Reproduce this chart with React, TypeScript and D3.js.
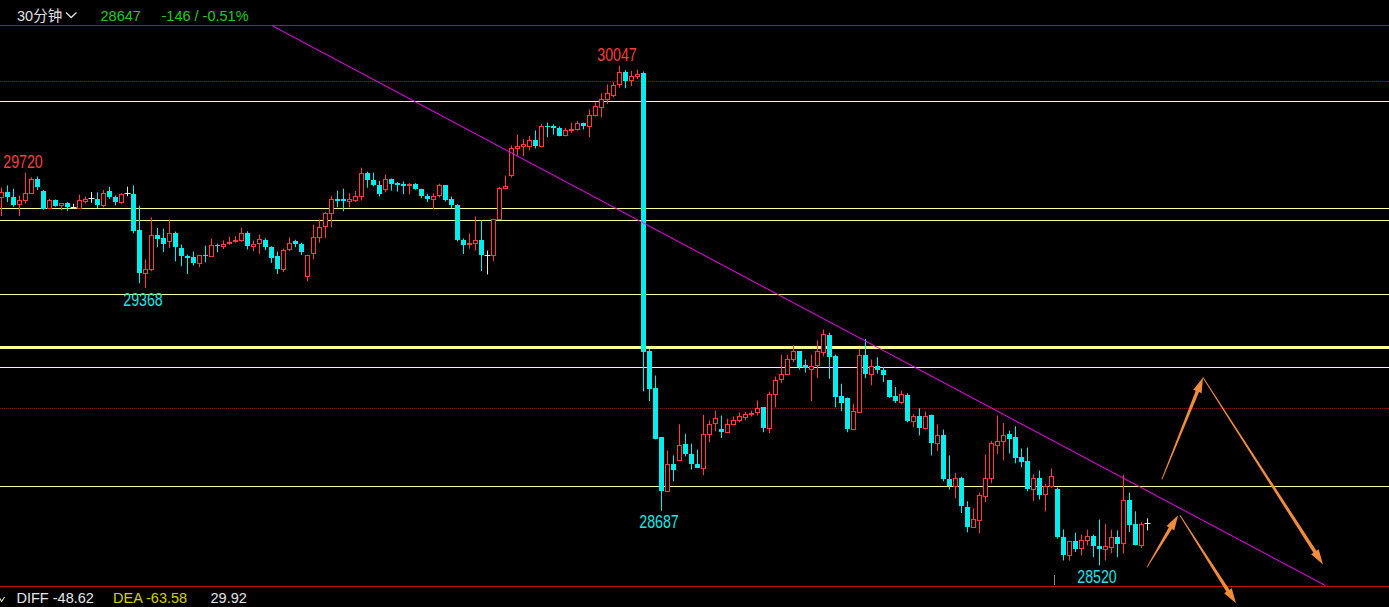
import React from "react";
import * as d3 from "d3";

const W = 1389;
const H = 607;

// 30-minute bars, oldest first
const opens = [
  29645, 29662, 29647, 29625, 29637, 29657, 29702, 29665, 29611, 29637,
  29622, 29626, 29612, 29612, 29633, 29640, 29641, 29620, 29663, 29647,
  29629, 29655, 29656, 29546, 29413, 29425, 29528, 29519, 29510, 29537,
  29490, 29466, 29461, 29444, 29469, 29466, 29500, 29495, 29504, 29510,
  29515, 29537, 29495, 29506, 29513, 29494, 29464, 29425, 29486, 29510,
  29503, 29404, 29474, 29523, 29556, 29596, 29638, 29638, 29633, 29636,
  29648, 29719, 29699, 29681, 29669, 29701, 29687, 29685, 29683, 29685,
  29671, 29650, 29639, 29651, 29681, 29638, 29622, 29513, 29501, 29504,
  29513, 29468, 29468, 29577, 29672, 29714, 29794, 29802, 29800, 29821,
  29800, 29863, 29861, 29857, 29834, 29849, 29852, 29873, 29862, 29895,
  29920, 29944, 29956, 29990, 30028, 30002, 30016, 30023, 29174, 29061,
  28911, 28747, 28831, 28842, 28890, 28861, 28831, 28818, 28921, 28954,
  28938, 28927, 28952, 28964, 28973, 28983, 28988, 29003, 28939, 29043,
  29089, 29104, 29151, 29174, 29131, 29121, 29133, 29171, 29225, 29161,
  29039, 29032, 28936, 28988, 29162, 29104, 29128, 29116, 29085, 29039,
  29019, 29042, 28961, 28977, 28939, 28979, 28894, 28917, 28783, 28764,
  28786, 28697, 28637, 28660, 28733, 28788, 28889, 28901, 28920, 28911,
  28850, 28838, 28752, 28786, 28737, 28762, 28752, 28606, 28552, 28595,
  28573, 28597, 28609, 28578, 28570, 28576, 28606, 28588, 28719, 28645,
  28581, 28647,
];

const highs = [
  29674, 29681, 29671, 29650, 29720, 29706, 29708, 29667, 29640, 29638,
  29627, 29630, 29625, 29653, 29647, 29661, 29660, 29667, 29677, 29650,
  29657, 29677, 29681, 29619, 29455, 29583, 29551, 29549, 29577, 29540,
  29500, 29470, 29479, 29469, 29497, 29519, 29503, 29513, 29525, 29526,
  29552, 29541, 29513, 29531, 29519, 29495, 29479, 29488, 29522, 29515,
  29506, 29469, 29561, 29577, 29600, 29649, 29665, 29671, 29657, 29664,
  29735, 29723, 29720, 29695, 29714, 29702, 29691, 29693, 29688, 29688,
  29671, 29655, 29657, 29686, 29682, 29647, 29623, 29519, 29534, 29586,
  29574, 29482, 29579, 29677, 29711, 29803, 29836, 29823, 29832, 29849,
  29869, 29873, 29867, 29861, 29857, 29873, 29878, 29873, 29913, 29935,
  29962, 29989, 29996, 30047, 30033, 30031, 30035, 30029, 29182, 29100,
  28911, 28871, 28856, 28951, 28922, 28892, 28874, 28980, 28963, 28993,
  28978, 28968, 28975, 28987, 28988, 28993, 29024, 29004, 29051, 29097,
  29164, 29163, 29192, 29175, 29149, 29164, 29207, 29241, 29231, 29164,
  29075, 29033, 29014, 29182, 29212, 29149, 29156, 29126, 29086, 29065,
  29054, 29046, 28983, 29000, 28990, 28981, 28951, 28935, 28856, 28803,
  28791, 28716, 28694, 28743, 28859, 28900, 28978, 28955, 28932, 28945,
  28877, 28880, 28798, 28810, 28768, 28816, 28758, 28630, 28595, 28620,
  28614, 28629, 28614, 28660, 28647, 28629, 28627, 28797, 28742, 28685,
  28652, 28664,
];

const lows = [
  29587, 29630, 29616, 29587, 29626, 29655, 29667, 29607, 29609, 29616,
  29605, 29603, 29609, 29609, 29626, 29628, 29611, 29614, 29640, 29620,
  29625, 29648, 29535, 29382, 29368, 29419, 29492, 29477, 29490, 29449,
  29434, 29410, 29436, 29431, 29446, 29466, 29477, 29486, 29500, 29506,
  29509, 29485, 29480, 29472, 29483, 29444, 29410, 29416, 29480, 29492,
  29468, 29388, 29455, 29506, 29520, 29553, 29614, 29602, 29614, 29630,
  29635, 29674, 29678, 29647, 29660, 29665, 29662, 29654, 29654, 29668,
  29642, 29630, 29608, 29644, 29632, 29611, 29510, 29471, 29488, 29482,
  29419, 29409, 29449, 29575, 29670, 29705, 29772, 29770, 29788, 29794,
  29797, 29828, 29836, 29831, 29831, 29842, 29848, 29852, 29828, 29892,
  29889, 29930, 29950, 29980, 29978, 29985, 30006, 29052, 29022, 28905,
  28687, 28747, 28777, 28842, 28853, 28813, 28817, 28796, 28896, 28930,
  28909, 28925, 28948, 28957, 28963, 28975, 28978, 28927, 28924, 29003,
  29077, 29104, 29141, 29118, 29109, 29022, 29093, 29159, 29090, 29003,
  28991, 28927, 28934, 28988, 29092, 29070, 29106, 29080, 29032, 29016,
  29012, 28957, 28942, 28917, 28935, 28856, 28869, 28777, 28752, 28725,
  28680, 28621, 28637, 28618, 28713, 28771, 28860, 28841, 28862, 28832,
  28820, 28746, 28716, 28721, 28685, 28757, 28602, 28535, 28535, 28561,
  28551, 28581, 28545, 28520, 28535, 28558, 28545, 28556, 28622, 28581,
  28573, 28627,
];

const closes = [
  29662, 29645, 29622, 29637, 29658, 29702, 29675, 29609, 29637, 29619,
  29626, 29614, 29612, 29635, 29641, 29640, 29620, 29659, 29645, 29629,
  29655, 29655, 29543, 29413, 29427, 29531, 29517, 29503, 29537, 29492,
  29465, 29459, 29443, 29469, 29464, 29499, 29495, 29503, 29507, 29514,
  29537, 29495, 29502, 29516, 29492, 29459, 29425, 29485, 29506, 29501,
  29477, 29469, 29524, 29555, 29597, 29640, 29633, 29633, 29638, 29649,
  29719, 29697, 29681, 29654, 29701, 29684, 29681, 29678, 29686, 29669,
  29648, 29639, 29649, 29681, 29635, 29622, 29513, 29500, 29506, 29513,
  29468, 29468, 29577, 29674, 29680, 29796, 29802, 29806, 29820, 29800,
  29863, 29859, 29856, 29831, 29851, 29854, 29873, 29861, 29897, 29925,
  29945, 29962, 29989, 30028, 30001, 30016, 30022, 29171, 29058, 28905,
  28747, 28831, 28810, 28889, 28859, 28831, 28817, 28922, 28953, 28971,
  28927, 28953, 28963, 28977, 28983, 28987, 29002, 28939, 29044, 29087,
  29106, 29151, 29174, 29125, 29124, 29129, 29174, 29228, 29156, 29036,
  29016, 28936, 28993, 29164, 29104, 29128, 29116, 29103, 29036, 29021,
  29044, 28961, 28975, 28939, 28977, 28894, 28917, 28783, 28764, 28786,
  28701, 28637, 28661, 28736, 28788, 28895, 28901, 28919, 28906, 28848,
  28835, 28752, 28788, 28736, 28762, 28794, 28606, 28551, 28595, 28570,
  28599, 28611, 28578, 28570, 28578, 28606, 28586, 28719, 28642, 28581,
  28645, 28647,
];

// Support / resistance levels
const thinLevels = [29937, 29610, 29574, 29348, 29125, 28761];
const boldLevels = [29186];
const roundLevels = [30000, 29000];

// Marked highs and lows
const extremes = [
  { i: 4, price: 29720, kind: "high" },
  { i: 24, price: 29368, kind: "low" },
  { i: 103, price: 30047, kind: "high" },
  { i: 110, price: 28687, kind: "low" },
  { i: 183, price: 28520, kind: "low" },
];

// Descending trend line (bar index, price)
const trendLine = [
  { i: 45.1, price: 30169 },
  { i: 220.6, price: 28459 },
];

// Projected path arrows
const arrows = [
  { from: { i: 193.4, price: 28783 }, to: { i: 200.25, price: 29094 } },
  { from: { i: 200.25, price: 29094 }, to: { i: 220.25, price: 28523 } },
  { from: { i: 190.9, price: 28514 }, to: { i: 196.1, price: 28673 } },
  { from: { i: 196.4, price: 28673 }, to: { i: 205.75, price: 28404 } },
];

const periodLabel = "30分钟";
const lastPrice = "28647";
const changeLabel = "-146 / -0.51%";
const macdDiff = "-48.62";
const macdDea = "-63.58";
const macdHist = "29.92";

const UP = "#ff3b3b";
const DOWN = "#00eeee";
const FLAT = "#e6e6e6";
const LEVEL_YELLOW = "#ffff96";
const ARROW = "#f08c3c";

const x = d3.scaleLinear().domain([0, 191]).range([1.5, 1147.5]);
const y = d3.scaleLinear().domain([29000, 30000]).range([408.3, 81]);

const crisp = (v: number) => Math.floor(v) + 0.5;

function arrowPolygon(x0: number, y0: number, x1: number, y1: number) {
  const dx = x1 - x0;
  const dy = y1 - y0;
  const len = Math.hypot(dx, dy);
  const ux = dx / len;
  const uy = dy / len;
  const nx = -uy;
  const ny = ux;
  const headLen = 15;
  const headW = 9;
  const w0 = 0.9;
  const w1 = 3.6;
  const bx = x1 - ux * headLen;
  const by = y1 - uy * headLen;
  const pts: [number, number][] = [
    [x0 + (nx * w0) / 2, y0 + (ny * w0) / 2],
    [bx + (nx * w1) / 2, by + (ny * w1) / 2],
    [bx + (nx * headW) / 2, by + (ny * headW) / 2],
    [x1, y1],
    [bx - (nx * headW) / 2, by - (ny * headW) / 2],
    [bx - (nx * w1) / 2, by - (ny * w1) / 2],
    [x0 - (nx * w0) / 2, y0 - (ny * w0) / 2],
  ];
  return pts.map((p) => p.join(",")).join(" ");
}

function Candles() {
  return (
    <g>
      {opens.map((o, i) => {
        const c = closes[i];
        const h = highs[i];
        const l = lows[i];
        const cx = x(i);
        const yh = y(h);
        const yl = y(l);
        if (c > o) {
          const top = Math.round(y(c)) + 0.5;
          let bot = Math.round(y(o)) + 0.5;
          if (bot - top < 1) bot = top + 1;
          return (
            <g key={i} stroke={UP} strokeWidth={1}>
              {yh < top && <line x1={cx} x2={cx} y1={yh} y2={top} />}
              {yl > bot && <line x1={cx} x2={cx} y1={bot} y2={yl} />}
              <rect x={cx - 2} y={top} width={4} height={bot - top} fill="#000" />
            </g>
          );
        }
        if (c < o) {
          const top = Math.round(y(o));
          const hgt = Math.max(1, Math.round(y(c)) - top);
          return (
            <g key={i}>
              <line x1={cx} x2={cx} y1={yh} y2={yl} stroke={DOWN} strokeWidth={1} />
              <rect x={cx - 2.5} y={top} width={5} height={hgt} fill={DOWN} />
            </g>
          );
        }
        const yy = crisp(y(o));
        return (
          <g key={i} stroke={FLAT} strokeWidth={1}>
            <line x1={cx} x2={cx} y1={yh} y2={yl} />
            <line x1={cx - 3} x2={cx + 3} y1={yy} y2={yy} />
          </g>
        );
      })}
    </g>
  );
}

export default function App() {
  const labelFont = "'Liberation Sans Narrow', 'Liberation Sans', Arial, sans-serif";
  const uiFont = "'Liberation Sans', Arial, 'Noto Sans CJK SC', sans-serif";
  const trendPath = d3
    .line<{ i: number; price: number }>()
    .x((d) => x(d.i))
    .y((d) => y(d.price))(trendLine);

  return (
    <svg
      width={W}
      height={H}
      viewBox={`0 0 ${W} ${H}`}
      style={{ position: "absolute", left: 0, top: 0, display: "block", background: "#000" }}
    >
      <rect x={0} y={0} width={W} height={H} fill="#000" />

      {/* panel borders */}
      <line x1={0} x2={W} y1={25.5} y2={25.5} stroke="#dc0000" strokeWidth={1} />
      <line x1={0} x2={W} y1={586.5} y2={586.5} stroke="#c01010" strokeWidth={1} />

      {/* round-number dotted levels */}
      {roundLevels.map((p) => (
        <line
          key={`r${p}`}
          x1={0}
          x2={W}
          y1={crisp(y(p))}
          y2={crisp(y(p))}
          stroke="#b40000"
          strokeWidth={1}
          strokeDasharray="1,1"
        />
      ))}

      {/* horizontal levels */}
      {thinLevels.map((p) => (
        <line
          key={`t${p}`}
          x1={0}
          x2={W}
          y1={crisp(y(p))}
          y2={crisp(y(p))}
          stroke={LEVEL_YELLOW}
          strokeWidth={1}
        />
      ))}
      {boldLevels.map((p) => (
        <line
          key={`b${p}`}
          x1={0}
          x2={W}
          y1={crisp(y(p))}
          y2={crisp(y(p))}
          stroke="#ffff8c"
          strokeWidth={3}
        />
      ))}

      <Candles />

      {/* trend line */}
      <path d={trendPath || ""} stroke="#ff00ff" strokeWidth={1} fill="none" />

      {/* projection arrows */}
      {arrows.map((a, k) => (
        <polygon
          key={`a${k}`}
          points={arrowPolygon(x(a.from.i), y(a.from.price), x(a.to.i), y(a.to.price))}
          fill={ARROW}
        />
      ))}

      {/* high / low labels */}
      {extremes.map((e) => (
        <text
          key={`e${e.i}`}
          x={x(e.i) - 2.5}
          y={e.kind === "high" ? y(e.price) - 4.5 : y(e.price) + 17.7}
          textAnchor="middle"
          fontFamily={labelFont}
          fontSize={17.5}
          textLength={39.5}
          lengthAdjust="spacingAndGlyphs"
          fill={e.kind === "high" ? "#ff3c3c" : "#20e4e4"}
        >
          {e.price}
        </text>
      ))}

      {/* cursor tick in the lower panel */}
      <line x1={1054.5} x2={1054.5} y1={575} y2={585} stroke="#8a8a8a" strokeWidth={1} />

      {/* header */}
      <text x={17} y={21} fontFamily={uiFont} fontSize={14.5} fill="#e0e0e0">
        {periodLabel}
      </text>
      <polyline points="66,12.5 71.2,17.5 76.5,12.5" fill="none" stroke="#e0e0e0" strokeWidth={1.3} />
      <text x={100.5} y={21} fontFamily={uiFont} fontSize={14.5} fill="#22cc22">
        {lastPrice}
      </text>
      <text x={161.5} y={21} fontFamily={uiFont} fontSize={14.5} fill="#22cc22">
        {changeLabel}
      </text>

      {/* MACD readout */}
      <polyline points="0,598.5 1.6,601.5 4.6,597" fill="none" stroke="#e8e8b0" strokeWidth={1.1} />
      <text x={16.5} y={603.3} fontFamily={uiFont} fontSize={14.5} fill="#e6e6e6">
        {`DIFF ${macdDiff}`}
      </text>
      <text x={113} y={603.3} fontFamily={uiFont} fontSize={14.5} fill="#d2d200">
        {`DEA ${macdDea}`}
      </text>
      <text x={210.5} y={603.3} fontFamily={uiFont} fontSize={14.5} fill="#e6e6e6">
        {macdHist}
      </text>
    </svg>
  );
}
